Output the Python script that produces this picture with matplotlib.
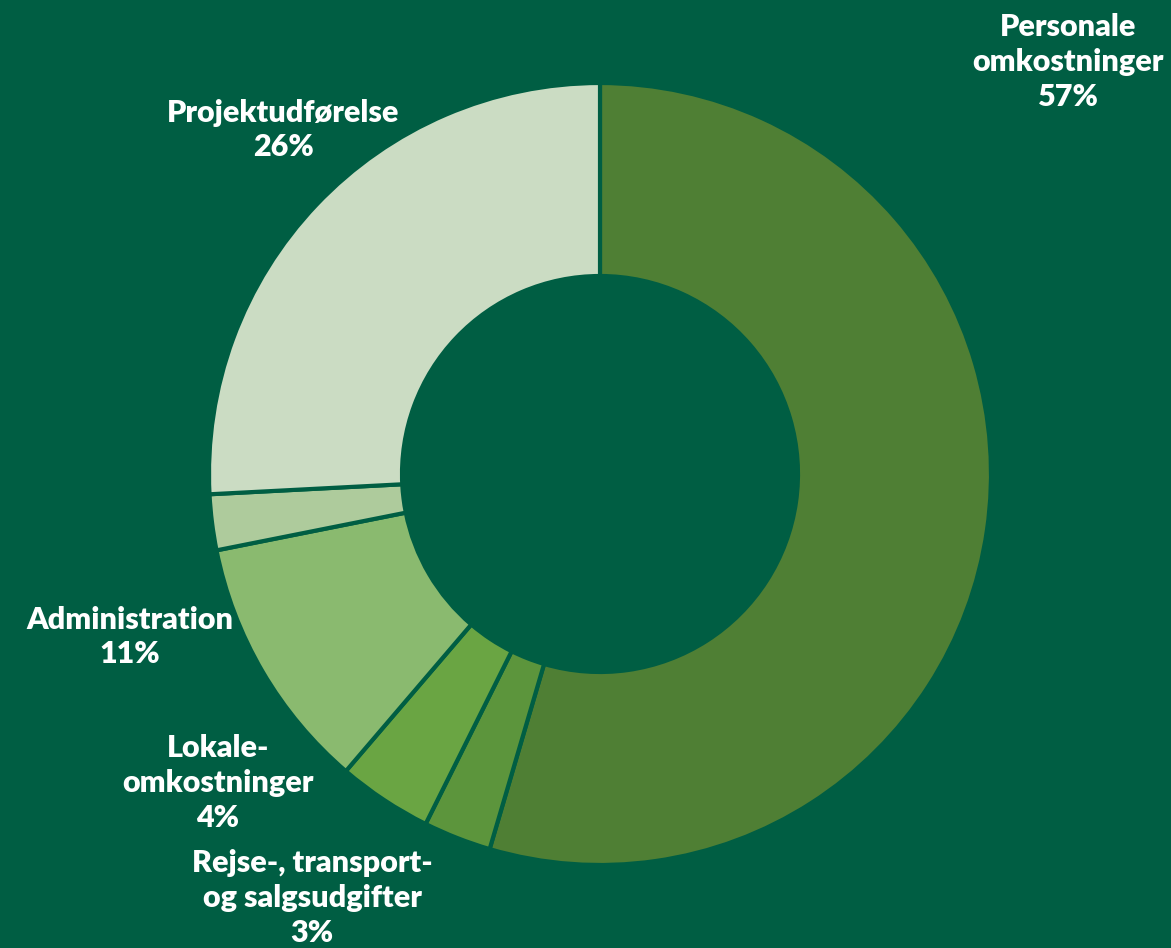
import matplotlib
matplotlib.use("Agg")
import matplotlib.pyplot as plt

categories = ["Personale\nomkostninger", "Rejse-, transport-\nog salgsudgifter",
              "Lokale-\nomkostninger", "Administration", "Øvrige", "Projektudførelse"]
values = [54.5, 2.8, 3.9, 10.6, 2.3, 25.8]
label_pct = ["57%", "3%", "4%", "11%", None, "26%"]
colors = ["#4f7f34", "#5c953c", "#6aa543", "#8aba6f", "#aecb9c", "#cbdcc3"]

BG = "#005e43"
W, H = 1171, 948

fig = plt.figure(figsize=(W / 100, H / 100), dpi=100, facecolor=BG)
ax = fig.add_axes([0, 0, 1, 1])
ax.set_facecolor(BG)

cx, cy, R = 600, H - 474, 391
ax.pie(values, colors=colors, startangle=90, counterclock=False,
       center=(cx, cy), radius=R, frame=True,
       wedgeprops=dict(width=193, edgecolor=BG, linewidth=3))
ax.set_xlim(0, W)
ax.set_ylim(0, H)
ax.set_aspect("equal")
ax.axis("off")

# label positions (image pixel coords of block centers)
pos = {0: (1068, 62), 1: (312, 898), 2: (218, 783), 3: (130, 637), 5: (283, 130)}
for i, (x, y) in pos.items():
    txt = categories[i] + "\n" + label_pct[i]
    ax.text(x, H - y, txt, ha="center", va="center", color="white",
            fontsize=22, fontweight="heavy", family=["Lato", "DejaVu Sans"],
            linespacing=1.3)

fig.savefig("out.png", dpi=100, facecolor=BG)
